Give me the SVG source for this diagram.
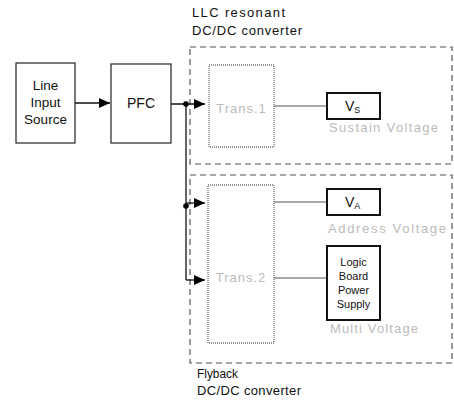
<svg xmlns="http://www.w3.org/2000/svg" width="454" height="407" viewBox="0 0 454 407">
<defs>
<marker id="arr" markerWidth="11" markerHeight="10" refX="11" refY="5" orient="auto" markerUnits="userSpaceOnUse">
<path d="M0,0 L11,5 L0,10 Z" fill="#000"/>
</marker>
<style>
text{font-family:"Liberation Sans",Arial,sans-serif;fill:#111}
.lbl{font-size:13px}
.box{fill:#fff;stroke:#333;stroke-width:1.3}
.vbox{fill:#fff;stroke:#111;stroke-width:2}
.trans{fill:#fff;stroke:#999;stroke-width:1.8;stroke-dasharray:1 1}
.dash{fill:none;stroke:#555;stroke-width:1.2;stroke-dasharray:6 4}
.gray{fill:#bbb;font-size:13px}
.wire{fill:none;stroke:#111;stroke-width:1.3}
.lwire{fill:none;stroke:#555;stroke-width:1.2}
</style>
</defs>
<rect width="454" height="407" fill="#fff"/>

<g id="llc-group">
<rect class="dash" x="190" y="47" width="262" height="117"/>
<text class="lbl" x="192" y="17" textLength="93" lengthAdjust="spacing">LLC resonant</text>
<text class="lbl" x="192" y="35" textLength="110" lengthAdjust="spacing">DC/DC converter</text>
</g>
<g id="flyback-group">
<rect class="dash" x="190" y="175" width="262" height="188"/>
<text class="lbl" x="197" y="378" textLength="41" lengthAdjust="spacingAndGlyphs">Flyback</text>
<text class="lbl" x="197" y="395" textLength="104" lengthAdjust="spacing">DC/DC converter</text>
</g>

<g id="line-input">
<rect class="box" x="16" y="63" width="59" height="80"/>
<text x="45.5" y="90" font-size="13.5" text-anchor="middle">Line</text>
<text x="45.5" y="107" font-size="13.5" text-anchor="middle">Input</text>
<text x="45.5" y="124" font-size="13.5" text-anchor="middle">Source</text>
</g>
<g id="pfc">
<rect class="box" x="111" y="64" width="60" height="79"/>
<text x="141" y="108" font-size="14" text-anchor="middle">PFC</text>
</g>

<g id="trans1">
<rect class="trans" x="209" y="65" width="65" height="82"/>
<text class="gray" x="241.5" y="113" text-anchor="middle" letter-spacing="1">Trans.1</text>
</g>
<g id="trans2">
<rect class="trans" x="208" y="185" width="66" height="158"/>
<text class="gray" x="241" y="282" text-anchor="middle" letter-spacing="1">Trans.2</text>
</g>

<g id="vs">
<rect class="vbox" x="327" y="93" width="53" height="26"/>
<text x="345" y="111" font-size="14">V<tspan font-size="9" dy="2">S</tspan></text>
<text class="gray" x="329" y="132" textLength="109" lengthAdjust="spacing">Sustain Voltage</text>
</g>
<g id="va">
<rect class="vbox" x="327" y="189" width="53" height="26"/>
<text x="345" y="207" font-size="14">V<tspan font-size="9" dy="2">A</tspan></text>
<text class="gray" x="328" y="233" textLength="118" lengthAdjust="spacing">Address Voltage</text>
</g>
<g id="logic">
<rect class="vbox" x="327" y="246" width="53" height="74"/>
<text x="353.5" y="266" font-size="11" text-anchor="middle">Logic</text>
<text x="353.5" y="280" font-size="11" text-anchor="middle">Board</text>
<text x="353.5" y="294" font-size="11" text-anchor="middle">Power</text>
<text x="353.5" y="308" font-size="11" text-anchor="middle">Supply</text>
<text class="gray" x="330" y="333" textLength="88" lengthAdjust="spacing">Multi Voltage</text>
</g>

<g id="connectors">
<line class="wire" x1="75" y1="103" x2="110" y2="103" marker-end="url(#arr)"/>
<line class="wire" x1="171" y1="104" x2="205" y2="104" marker-end="url(#arr)"/>
<line class="wire" x1="186" y1="104" x2="186" y2="280"/>
<line class="wire" x1="186" y1="203" x2="205" y2="203" marker-end="url(#arr)"/>
<line class="wire" x1="186" y1="280" x2="205" y2="280" marker-end="url(#arr)"/>
<circle cx="186" cy="104" r="2.8" fill="#000"/>
<circle cx="186" cy="206" r="2.8" fill="#000"/>
<line class="lwire" x1="274" y1="106" x2="327" y2="106"/>
<line class="lwire" x1="274" y1="202" x2="327" y2="202"/>
<line class="lwire" x1="274" y1="278" x2="327" y2="278"/>
</g>
</svg>
